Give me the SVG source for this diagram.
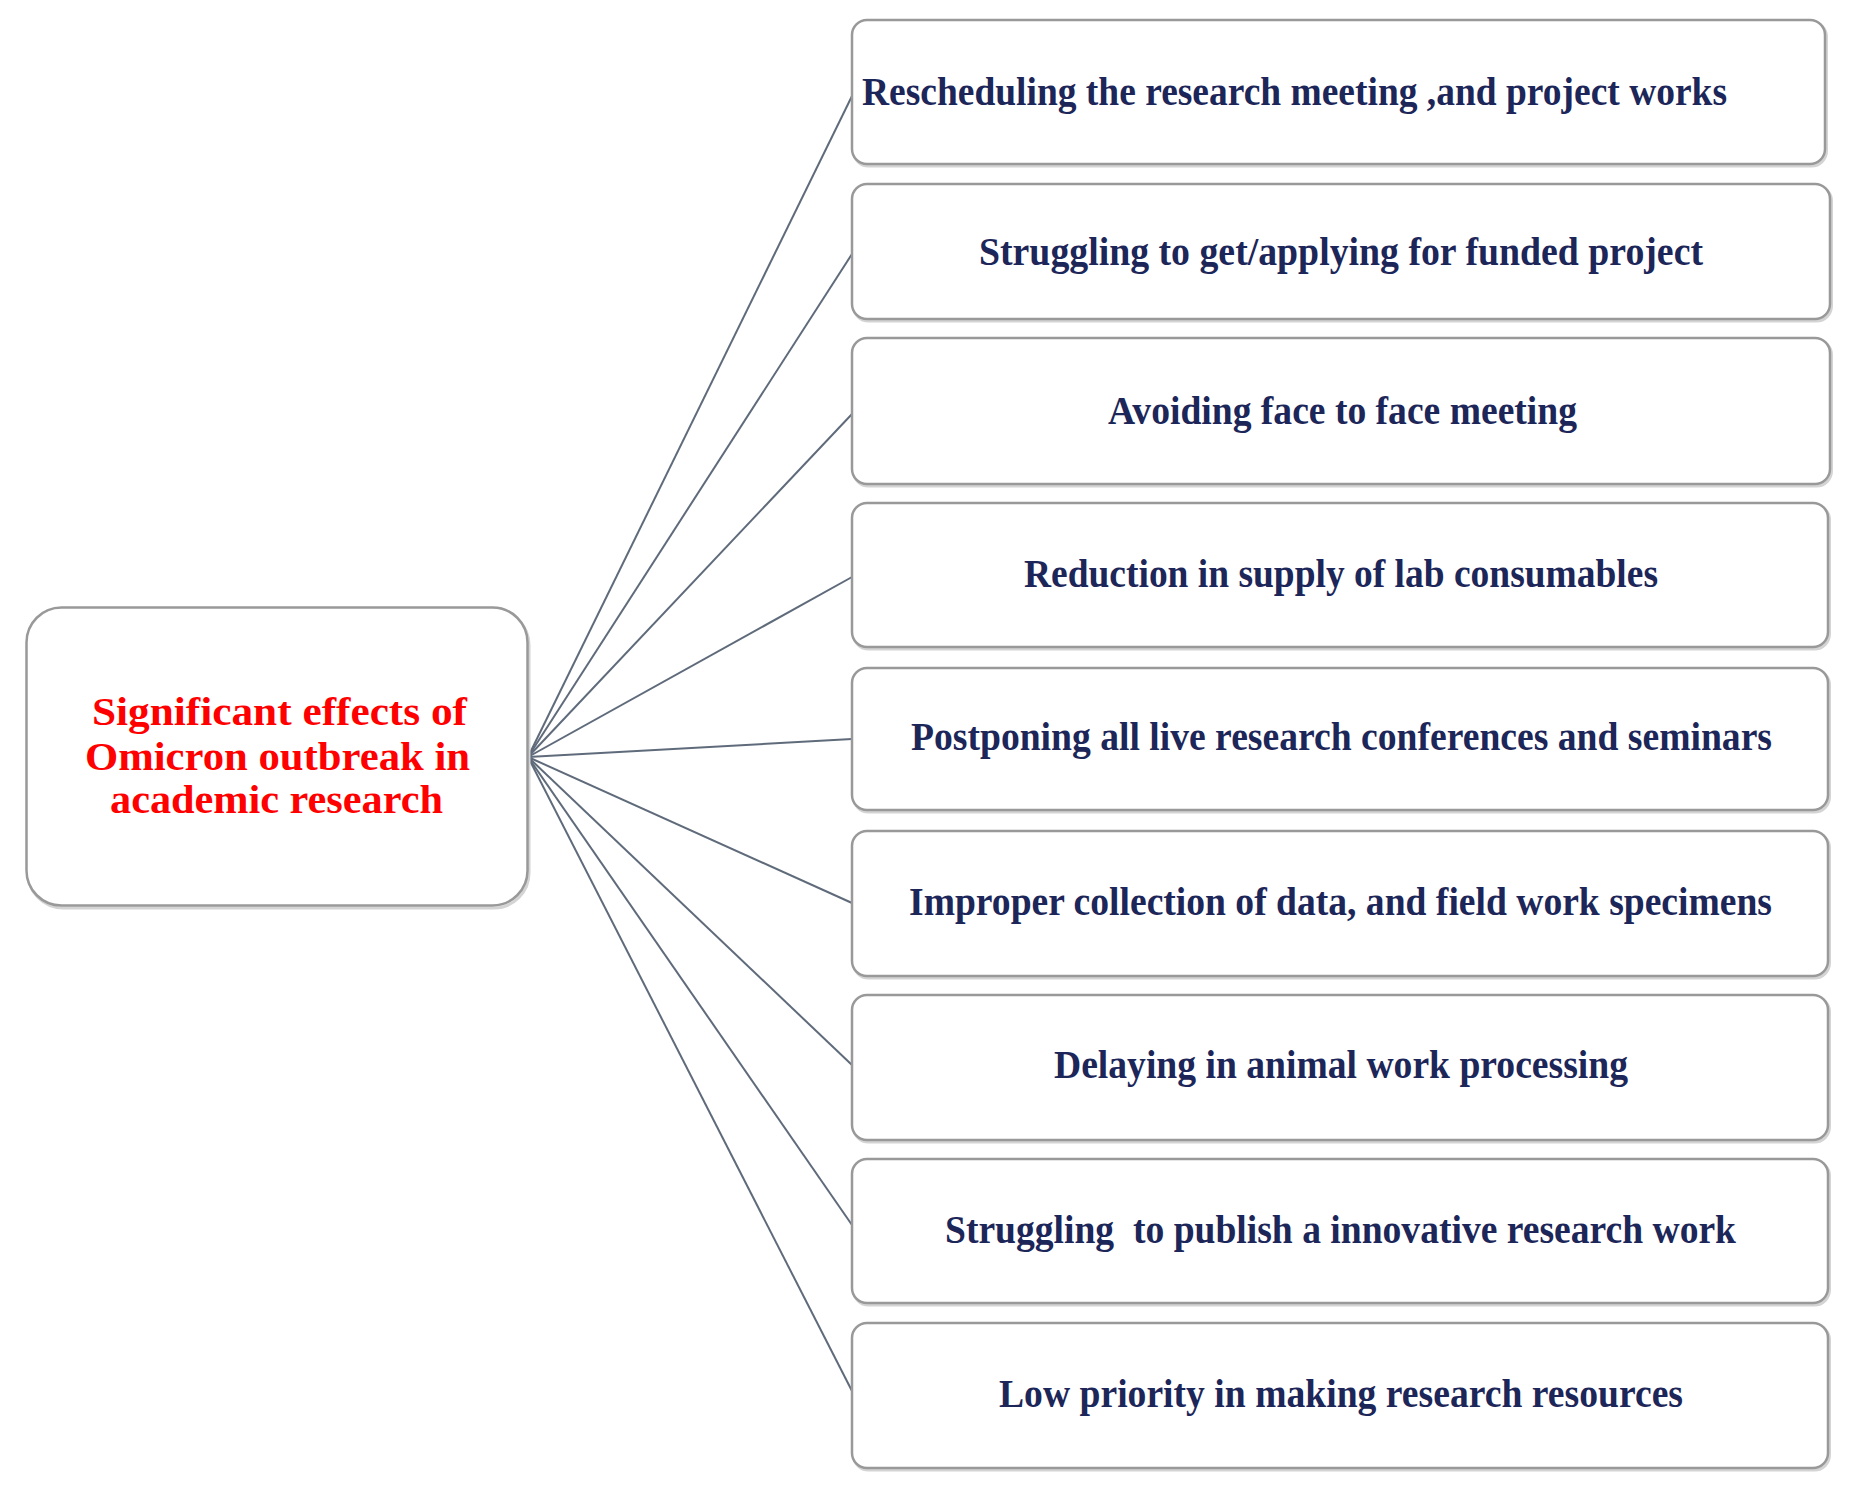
<svg xmlns="http://www.w3.org/2000/svg" width="1850" height="1497" viewBox="0 0 1850 1497">
<style>
.box{fill:#ffffff;stroke:#999999;stroke-width:2.5}
.shadow{fill:none;stroke:#d4d4d4;stroke-width:3}
.lbl{font-family:"Liberation Serif","Times New Roman",serif;font-weight:bold;font-size:40px;fill:#1c2659}
.ctr{font-family:"Liberation Serif","Times New Roman",serif;font-weight:bold;font-size:41px;fill:#ff0000}
.con{stroke:#5f6b7a;stroke-width:2;fill:none}
</style>
<rect width="1850" height="1497" fill="#ffffff"/>
<g id="connectors">
<line class="con" x1="528" y1="757" x2="852" y2="96"/>
<line class="con" x1="528" y1="757" x2="852" y2="254"/>
<line class="con" x1="528" y1="757" x2="852" y2="414"/>
<line class="con" x1="528" y1="757" x2="852" y2="577"/>
<line class="con" x1="528" y1="757" x2="852" y2="739"/>
<line class="con" x1="528" y1="757" x2="852" y2="903"/>
<line class="con" x1="528" y1="757" x2="852" y2="1065"/>
<line class="con" x1="528" y1="757" x2="852" y2="1225"/>
<line class="con" x1="528" y1="757" x2="852" y2="1391"/>
</g>
<g id="center">
<rect class="shadow" x="28" y="610" width="501" height="298" rx="35"/>
<rect class="box" x="26.5" y="607.5" width="501" height="298" rx="35"/>
<text class="ctr" x="92" y="725" textLength="375" lengthAdjust="spacingAndGlyphs">Significant effects of</text>
<text class="ctr" x="85" y="770" textLength="385" lengthAdjust="spacingAndGlyphs">Omicron outbreak in</text>
<text class="ctr" x="110" y="813" textLength="333" lengthAdjust="spacingAndGlyphs">academic research</text>
</g>
<g id="n1">
<rect class="shadow" x="853.5" y="22" width="973" height="144" rx="15"/>
<rect class="box" x="852" y="20" width="973" height="144" rx="15"/>
<text class="lbl" x="862" y="105" textLength="865" lengthAdjust="spacingAndGlyphs">Rescheduling the research meeting ,and project works</text>
</g>
<g id="n2">
<rect class="shadow" x="853.5" y="186" width="978" height="135" rx="15"/>
<rect class="box" x="852" y="184" width="978" height="135" rx="15"/>
<text class="lbl" x="979" y="265" textLength="724" lengthAdjust="spacingAndGlyphs">Struggling to get/applying for funded project</text>
</g>
<g id="n3">
<rect class="shadow" x="853.5" y="340" width="978" height="146" rx="15"/>
<rect class="box" x="852" y="338" width="978" height="146" rx="15"/>
<text class="lbl" x="1108" y="424" textLength="469" lengthAdjust="spacingAndGlyphs">Avoiding face to face meeting</text>
</g>
<g id="n4">
<rect class="shadow" x="853.5" y="505" width="976" height="144" rx="15"/>
<rect class="box" x="852" y="503" width="976" height="144" rx="15"/>
<text class="lbl" x="1024" y="587" textLength="634" lengthAdjust="spacingAndGlyphs">Reduction in supply of lab consumables</text>
</g>
<g id="n5">
<rect class="shadow" x="853.5" y="670" width="976" height="142" rx="15"/>
<rect class="box" x="852" y="668" width="976" height="142" rx="15"/>
<text class="lbl" x="911" y="750" textLength="861" lengthAdjust="spacingAndGlyphs">Postponing all live research conferences and seminars</text>
</g>
<g id="n6">
<rect class="shadow" x="853.5" y="833" width="976" height="145" rx="15"/>
<rect class="box" x="852" y="831" width="976" height="145" rx="15"/>
<text class="lbl" x="909" y="915" textLength="863" lengthAdjust="spacingAndGlyphs">Improper collection of data, and field work specimens</text>
</g>
<g id="n7">
<rect class="shadow" x="853.5" y="997" width="976" height="145" rx="15"/>
<rect class="box" x="852" y="995" width="976" height="145" rx="15"/>
<text class="lbl" x="1054" y="1078" textLength="574" lengthAdjust="spacingAndGlyphs">Delaying in animal work processing</text>
</g>
<g id="n8">
<rect class="shadow" x="853.5" y="1161" width="976" height="144" rx="15"/>
<rect class="box" x="852" y="1159" width="976" height="144" rx="15"/>
<text class="lbl" x="945" y="1243" textLength="791" lengthAdjust="spacingAndGlyphs" xml:space="preserve">Struggling  to publish a innovative research work</text>
</g>
<g id="n9">
<rect class="shadow" x="853.5" y="1325" width="976" height="145" rx="15"/>
<rect class="box" x="852" y="1323" width="976" height="145" rx="15"/>
<text class="lbl" x="999" y="1407" textLength="684" lengthAdjust="spacingAndGlyphs">Low priority in making research resources</text>
</g>
</svg>
